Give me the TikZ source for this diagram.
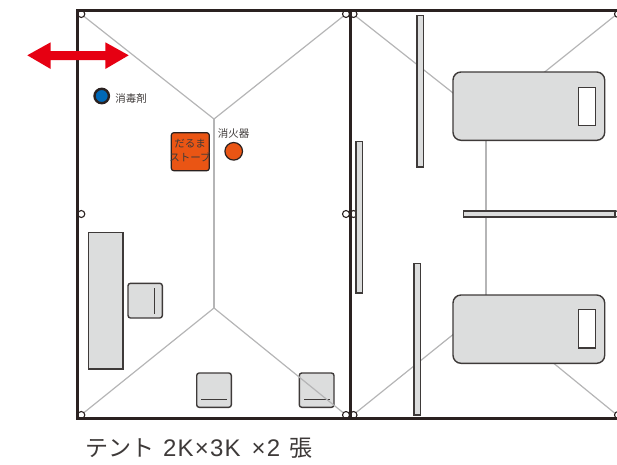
\documentclass[tikz,border=0pt]{standalone}
\usepackage{fontspec}
\newfontfamily\jp{Noto Sans CJK JP}
\newfontfamily\lat[LetterSpace=5]{Liberation Sans}
\definecolor{ink}{HTML}{3E3A39}
\definecolor{frameink}{HTML}{2A2120}
\definecolor{pale}{HTML}{DCDDDD}
\definecolor{rope}{HTML}{B5B5B6}
\definecolor{stove}{HTML}{EA5514}
\definecolor{bluec}{HTML}{0068B7}
\definecolor{redc}{HTML}{E60012}
\tikzset{
  frameline/.style={draw=frameink,line width=3pt,line cap=butt},
  ropeline/.style={draw=rope,line width=1.2pt},
  ropepole/.style={draw=rope,line width=1.7pt},
  ring/.style={draw=frameink,fill=white,line width=1.1pt},
  item/.style={draw=ink,fill=pale,line width=1.4pt},
  roundeditem/.style={item,rounded corners=2.5pt},
  bedshape/.style={item,rounded corners=8pt},
  pillow/.style={draw=ink,fill=white,line width=1.4pt},
  panel/.style={draw=ink,fill=pale,line width=1.4pt},
  innerline/.style={draw=ink,line width=1.2pt},
  small/.style={font=\jp\fontsize{10.5}{12}\selectfont,text=ink,inner sep=0pt},
}
\begin{document}
\begin{tikzpicture}[x=1pt,y=-1pt]
\useasboundingbox (0,0) rectangle (617,464);
\begin{scope}
\clip (0,0) rectangle (617,464);
% chairs & desk
\path[item] (88.3,232.7) rectangle (123,369);
\path[roundeditem] (128,283.3) rectangle (162.3,318);
\draw[innerline] (154.7,288) -- (154.7,313.7);
\path[roundeditem] (196.7,373) rectangle (231.3,407.3);
\draw[innerline] (201.3,399.3) -- (227,399.3);
\path[roundeditem] (299.3,373) rectangle (334,407.3);
\draw[innerline] (304,399.3) -- (330,399.3);
% ropes left tent
\coordinate (la) at (214,119); \coordinate (lb) at (214,308);
\draw[ropeline] (81,14) -- (la) -- (346,14);
\draw[ropeline] (81,415) -- (lb) -- (346,415);
\draw[ropepole] (la) -- (lb);
% ropes right tent
\coordinate (ra) at (486,119); \coordinate (rb) at (486,308);
\draw[ropeline] (353,14) -- (ra) -- (617,14);
\draw[ropeline] (353,415) -- (rb) -- (617,415);
\draw[ropepole] (ra) -- (rb);
% rings
\foreach \x in {81.3,346,353.5,618}
  \foreach \y in {14,214,415}
    \path[ring] (\x,\y) circle (3.5);
% frame
\draw[frameline] (617,10.5) -- (77.8,10.5) -- (77.8,418) -- (617,418);
\draw[frameline] (350,10.5) -- (350,418);
% panels
\path[panel] (417,15.7) rectangle (423.3,167);
\path[panel] (356,141.7) rectangle (362.3,293);
\path[panel] (414,263.7) rectangle (420.5,415);
\path[panel] (463.3,211) rectangle (615,217);
% beds
\path[bedshape] (453,72) rectangle (604.7,140.3);
\path[pillow] (578.3,87.3) rectangle (595.5,125.3);
\path[bedshape] (453,295) rectangle (604.7,363.3);
\path[pillow] (578.3,309.7) rectangle (595.5,348);
% stove
\path[draw=frameink,fill=stove,line width=1.2pt,rounded corners=2.5pt] (171.3,132.7) rectangle (209.3,170.7);
\node[small] (stoveA) at (190,144) {だるま};
\node[small] (stoveB) at (190,157) {ストーブ};
% extinguisher
\path[draw=frameink,fill=stove,line width=1.2pt] (233.7,151.3) circle (8.8);
\node[small] (ext) at (233.7,134) {消火器};
% disinfectant
\path[draw=frameink,fill=bluec,line width=2.4pt] (101.7,96) circle (7.2);
\node[small] (dis) at (131.2,99) {消毒剤};
% red arrow
\fill[redc] (27.3,55.3) -- (50.7,42.3) -- (50.7,51) -- (105.3,51) -- (105.3,42.3) -- (128.7,55.3) -- (105.3,69) -- (105.3,60) -- (50.7,60) -- (50.7,69) -- cycle;
\end{scope}
\node[font=\jp\fontsize{23}{26}\selectfont,text=ink,inner sep=0pt,anchor=west] (title) at (85,448.5) {テント\hspace{9pt}{\lat\fontsize{24}{26}\selectfont 2K×3K}\hspace{11pt}{\lat\fontsize{24}{26}\selectfont ×2}\hspace{9pt}張};
\end{tikzpicture}
\end{document}
